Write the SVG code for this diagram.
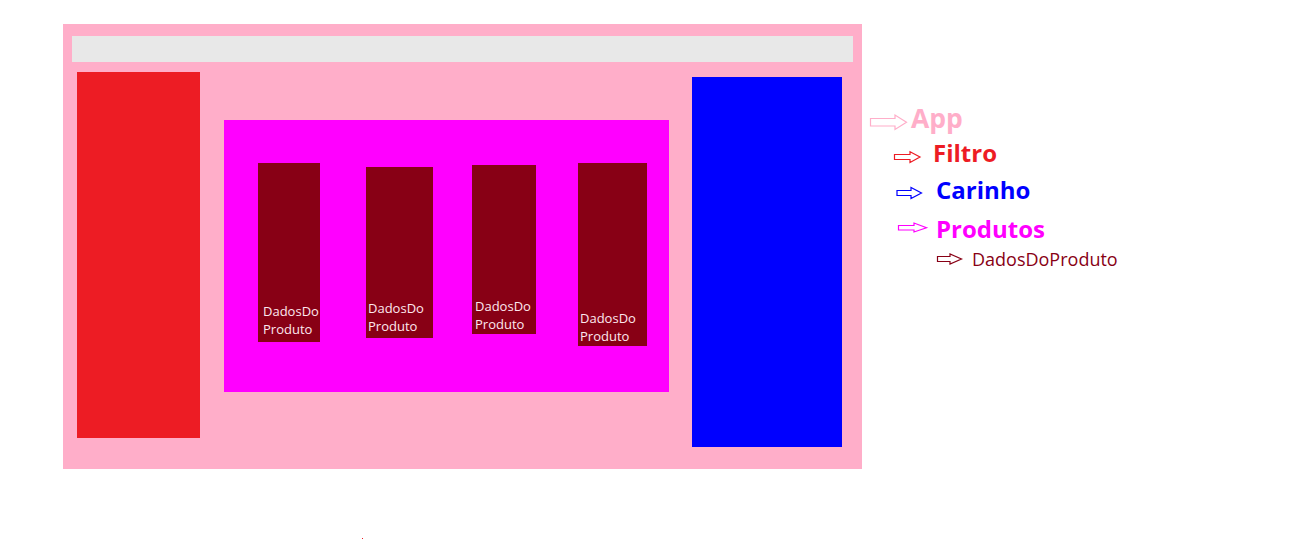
<svg xmlns="http://www.w3.org/2000/svg" width="1302" height="544" viewBox="0 0 1302 544">
<style>
.lbl{font-family:"Open Sans","Noto Sans",sans-serif;font-size:13px;fill:#fde8ee}
.leg{font-family:"Open Sans","Noto Sans",sans-serif;font-weight:bold;font-size:24px}
.arr{fill:#ffffff;stroke-width:1.2}
</style>
<rect width="1302" height="544" fill="#ffffff"/>
<g id="app"><rect x="63" y="24" width="799" height="445" fill="#ffaec9"/></g>
<g id="header"><rect x="72" y="36" width="781" height="26" fill="#e8e8e8"/></g>
<g id="filtro"><rect x="77" y="72" width="123" height="366" fill="#ed1c24"/></g>
<g id="carinho"><rect x="692" y="77" width="150" height="370" fill="#0000ff"/></g>
<g id="produtos"><rect x="224" y="120" width="445" height="272" fill="#ff00ff"/></g>
<g id="produto1"><rect x="258" y="163" width="62" height="179" fill="#880015"/>
<text class="lbl" x="263" y="316">DadosDo</text><text class="lbl" x="263" y="334">Produto</text></g>
<g id="produto2"><rect x="366" y="167" width="67" height="171" fill="#880015"/>
<text class="lbl" x="368" y="313">DadosDo</text><text class="lbl" x="368" y="331">Produto</text></g>
<g id="produto3"><rect x="472" y="165" width="64" height="169" fill="#880015"/>
<text class="lbl" x="475" y="311">DadosDo</text><text class="lbl" x="475" y="329">Produto</text></g>
<g id="produto4"><rect x="578" y="163" width="69" height="183" fill="#880015"/>
<text class="lbl" x="580" y="323">DadosDo</text><text class="lbl" x="580" y="341">Produto</text></g>
<rect x="362" y="538" width="1" height="1" fill="#ed1c24"/>
<g id="legend-connectors">
<path class="arr" stroke="#ffaec9" d="M870.5,118.5 H895 V115 L906.5,122.3 L895,129.5 V126 H870.5 Z"/>
<path class="arr" stroke="#ed1c24" d="M894.5,154.5 H910 V151.7 L920,157 L910,162.5 V159.5 H894.5 Z"/>
<path class="arr" stroke="#0000ff" d="M897,190.5 H911 V187.5 L921.5,193 L911,198.5 V195.5 H897 Z"/>
<path class="arr" stroke="#ff00ff" d="M898.5,225.5 H914 V223 L926.5,227.7 L914,232 V230 H898.5 Z"/>
<path class="arr" stroke="#880015" d="M937.5,256.5 H950 V254 L961.5,259 L950,264 V261.5 H937.5 Z"/>
</g>
<g id="legend-app"><text class="leg" x="911" y="128" style="font-size:26.5px" fill="#ffaec9">App</text></g>
<g id="legend-filtro"><text class="leg" x="933" y="162" fill="#ed1c24">Filtro</text></g>
<g id="legend-carinho"><text class="leg" x="936" y="199" fill="#0000ff">Carinho</text></g>
<g id="legend-produtos"><text class="leg" x="936" y="238" fill="#ff00ff">Produtos</text></g>
<g id="legend-dados"><text x="972" y="266" font-family="'Open Sans','Noto Sans',sans-serif" font-size="18" fill="#880015">DadosDoProduto</text></g>
</svg>
